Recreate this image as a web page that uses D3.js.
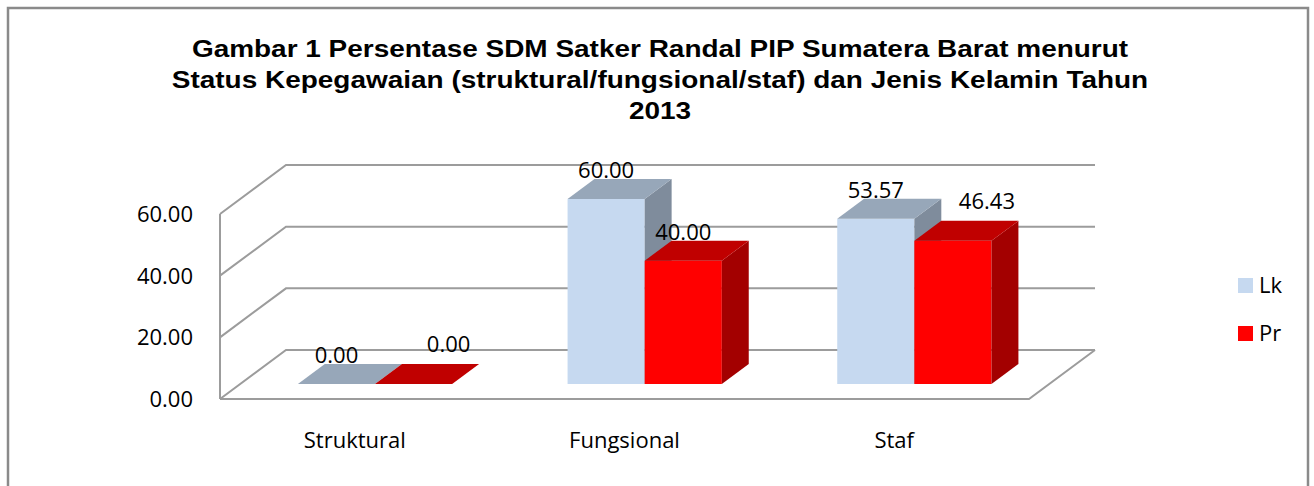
<!DOCTYPE html>
<html>
<head>
<meta charset="utf-8">
<script src="https://cdn.jsdelivr.net/npm/d3@7"></script>
<style>
  html, body { margin: 0; padding: 0; background: #fff; }
  #chart { width: 1314px; height: 486px; }
  text { fill: #000; }
</style>
</head>
<body>
<div id="chart"></div>
<script>
const titleLines = [
  "Gambar 1 Persentase SDM Satker Randal PIP Sumatera Barat menurut",
  "Status Kepegawaian (struktural/fungsional/staf) dan Jenis Kelamin Tahun",
  "2013",
];
const categories = ["Struktural", "Fungsional", "Staf"];
const seriesNames = ["Lk", "Pr"];
const lkValues = [0.0, 60.0, 53.57];
const prValues = [0.0, 40.0, 46.43];
const yTicks = [0, 20, 40, 60];

class Bar3DChart {
  constructor(el) {
    this.el = el;
    this._setup();
    this._scaffold();
    this._render();
  }

  _setup() {
    this.width = 1314;
    this.height = 486;

    // oblique depth of the floor / walls
    this.depthX = 66;
    this.depthY = 49;
    // bars sit between these depth fractions
    this.barZ0 = 0.306;
    this.barZ1 = 0.714;

    this.x0 = d3.scaleBand().domain(categories).range([220, 1029]);
    const half = this.x0.bandwidth() * 0.286;
    this.x1 = d3.scaleBand().domain(seriesNames).range([-half, half]);
    this.y = d3.scaleLinear().domain([0, 60]).range([399, 214]);

    this.colors = {
      Lk: { front: "#c6d9f0", top: "#97a7b9", side: "#7f8c9c" },
      Pr: { front: "#ff0000", top: "#c00000", side: "#a30000" },
    };

    // hand-moved data labels (as in the original)
    this.labelNudge = {
      "Struktural|Pr": [35, -11],
      "Staf|Pr": [34, -11],
    };

    this.data = categories.map((c, i) => ({
      category: c,
      values: [
        { key: "Lk", value: lkValues[i] },
        { key: "Pr", value: prValues[i] },
      ],
    }));
  }

  _p(x, v, z) {
    return [x + z * this.depthX, this.y(v) - z * this.depthY];
  }

  _scaffold() {
    d3.select(this.el).selectAll("*").remove();
    this.svg = d3
      .select(this.el)
      .append("svg")
      .attr("width", this.width)
      .attr("height", this.height)
      .style("font-family", "'Open Sans', sans-serif");

    this.svg
      .append("rect")
      .attr("x", 8)
      .attr("y", 8)
      .attr("width", 1300)
      .attr("height", 500)
      .attr("fill", "#fff")
      .attr("stroke", "#8a8a8a")
      .attr("stroke-width", 2.5);

    this.gGrid = this.svg.append("g").attr("class", "grid");
    this.gBars = this.svg.append("g").attr("class", "bars");
    this.gLabels = this.svg.append("g").attr("class", "labels");
    this.gAxis = this.svg.append("g").attr("class", "axis");
    this.gLegend = this.svg.append("g").attr("class", "legend");
    // the original title is a little wider than Arial, stretch it
    this.gTitle = this.svg
      .append("g")
      .attr("class", "title")
      .attr("transform", "translate(660,0) scale(1.165,1)");
  }

  _render() {
    const [xL, xR] = this.x0.range();
    const line = d3.line();
    const gridStroke = "#9c9c9c";

    // back wall gridlines with left-wall diagonals
    this.gGrid
      .selectAll("path.gridline")
      .data(yTicks)
      .join("path")
      .attr("class", "gridline")
      .attr("fill", "none")
      .attr("stroke", gridStroke)
      .attr("stroke-width", 2)
      .attr("d", (v) =>
        line([this._p(xL, v, 0), this._p(xL, v, 1), this._p(xR, v, 1)])
      );

    // front vertical axis and floor edges
    this.gGrid
      .append("path")
      .attr("fill", "none")
      .attr("stroke", gridStroke)
      .attr("stroke-width", 2)
      .attr("d", line([this._p(xL, yTicks[yTicks.length - 1], 0), this._p(xL, 0, 0)]));
    this.gGrid
      .append("path")
      .attr("fill", "none")
      .attr("stroke", gridStroke)
      .attr("stroke-width", 2)
      .attr("d", line([this._p(xL, 0, 0), this._p(xR, 0, 0), this._p(xR, 0, 1)]));

    // y axis labels
    const fmt = d3.format(".2f");
    this.gAxis
      .selectAll("text.ytick")
      .data(yTicks)
      .join("text")
      .attr("class", "ytick")
      .attr("x", xL - 27)
      .attr("y", (v) => this.y(v))
      .attr("dy", "0.36em")
      .attr("text-anchor", "end")
      .style("font-size", "22px")
      .text((v) => fmt(v));

    // category labels
    this.gAxis
      .selectAll("text.xtick")
      .data(categories)
      .join("text")
      .attr("class", "xtick")
      .attr("x", (c) => this.x0(c) + this.x0.bandwidth() / 2)
      .attr("y", 448)
      .attr("text-anchor", "middle")
      .style("font-size", "22px")
      .text((c) => c);

    // bars
    const bw = this.x1.bandwidth();
    const z0 = this.barZ0;
    const z1 = this.barZ1;
    const cats = this.gBars
      .selectAll("g.cat")
      .data(this.data)
      .join("g")
      .attr("class", "cat");

    const bars = cats
      .selectAll("g.bar")
      .data((d) => d.values.map((v) => ({ ...v, category: d.category })))
      .join("g")
      .attr("class", "bar");

    bars.each((d, i, nodes) => {
      const g = d3.select(nodes[i]);
      const xa = this.x0(d.category) + this.x0.bandwidth() / 2 + this.x1(d.key);
      const xb = xa + bw;
      const c = this.colors[d.key];
      const poly = (pts) => "M" + pts.map((p) => p.join(",")).join("L") + "Z";

      g.append("path")
        .attr("fill", c.front)
        .attr("d", poly([this._p(xa, 0, z0), this._p(xb, 0, z0), this._p(xb, d.value, z0), this._p(xa, d.value, z0)]));
      g.append("path")
        .attr("fill", c.side)
        .attr("d", poly([this._p(xb, 0, z0), this._p(xb, 0, z1), this._p(xb, d.value, z1), this._p(xb, d.value, z0)]));
      g.append("path")
        .attr("fill", c.top)
        .attr("d", poly([this._p(xa, d.value, z0), this._p(xb, d.value, z0), this._p(xb, d.value, z1), this._p(xa, d.value, z1)]));

      // data label: centred on the front face, sitting on the back top edge
      const nudge = this.labelNudge[d.category + "|" + d.key] || [0, 0];
      const front = this._p((xa + xb) / 2, d.value, z0);
      const back = this._p(xa, d.value, z1);
      this.gLabels
        .append("text")
        .attr("x", front[0] + nudge[0])
        .attr("y", back[1] - 1 + nudge[1])
        .attr("text-anchor", "middle")
        .style("font-size", "22px")
        .text(fmt(d.value));
    });

    // legend
    const leg = this.gLegend
      .selectAll("g.item")
      .data(seriesNames)
      .join("g")
      .attr("class", "item")
      .attr("transform", (d, i) => `translate(1238, ${278 + i * 48})`);
    leg
      .append("rect")
      .attr("width", 15)
      .attr("height", 15)
      .attr("fill", (d) => this.colors[d].front);
    leg
      .append("text")
      .attr("x", 21)
      .attr("y", 7.5)
      .attr("dy", "0.36em")
      .style("font-size", "22px")
      .text((d) => d);

    // title
    this.gTitle
      .selectAll("text")
      .data(titleLines)
      .join("text")
      .attr("x", 0)
      .attr("y", (d, i) => 57 + i * 31)
      .attr("text-anchor", "middle")
      .style("font-family", "'Liberation Sans', Arial, sans-serif")
      .style("font-weight", "bold")
      .style("font-size", "24px")
      .text((d) => d);
  }
}

new Bar3DChart(document.getElementById("chart"));
</script>
</body>
</html>
